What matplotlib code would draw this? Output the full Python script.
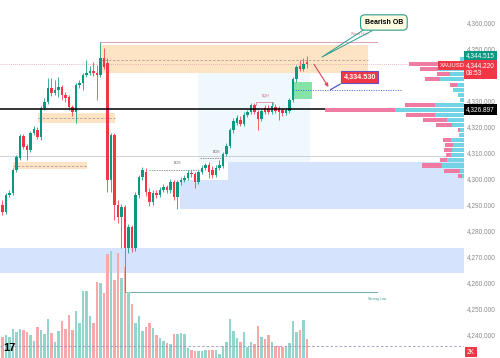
import numpy as np
import matplotlib.pyplot as plt
import matplotlib.transforms as mtransforms

plt.rcParams['font.family'] = ['Liberation Sans', 'DejaVu Sans']

# XAUUSD candles (price)
opens = [4290.0, 4287.3, 4293.8, 4294.6, 4303.5, 4308.1, 4316.5, 4312.7, 4311.2, 4317.7,
         4318.8, 4316.2, 4327.3, 4329.6, 4335.0, 4333.1, 4334.2, 4335.4, 4332.3, 4331.5,
         4327.7, 4325.8, 4336.2, 4336.9, 4340.0, 4340.8, 4341.5, 4340.8, 4340.0, 4346.5,
         4344.6, 4299.6, 4316.9, 4290.0, 4285.4, 4289.2, 4273.5, 4281.5, 4273.5, 4293.8,
         4300.8, 4302.7, 4295.0, 4291.2, 4294.6, 4293.8, 4295.8, 4296.9, 4295.8, 4298.8,
         4293.1, 4298.8, 4299.6, 4300.4, 4302.3, 4301.9, 4298.8, 4302.7, 4304.2, 4305.4,
         4303.5, 4301.5, 4304.2, 4305.0, 4309.6, 4312.7, 4318.8, 4321.5, 4322.7, 4321.2,
         4324.6, 4325.8, 4328.5, 4325.8, 4323.1, 4327.3, 4326.9, 4325.8, 4327.7, 4327.3,
         4326.5, 4325.4, 4326.2, 4330.4, 4338.5, 4343.5, 4342.3, 4345.0]
highs = [4291.9, 4294.6, 4295.8, 4304.2, 4309.2, 4317.3, 4317.3, 4313.5, 4318.5, 4320.4,
         4320.0, 4328.1, 4331.2, 4338.8, 4338.8, 4338.1, 4339.2, 4336.2, 4333.5, 4332.3,
         4328.5, 4336.9, 4338.1, 4340.8, 4345.8, 4343.5, 4345.0, 4343.8, 4352.7, 4350.4,
         4346.5, 4317.7, 4317.7, 4291.9, 4290.4, 4290.0, 4282.7, 4282.3, 4295.0, 4301.5,
         4304.6, 4304.2, 4296.5, 4295.8, 4295.8, 4296.9, 4298.1, 4297.7, 4300.0, 4299.6,
         4299.6, 4300.8, 4301.5, 4303.5, 4303.5, 4302.7, 4303.5, 4305.4, 4306.2, 4306.5,
         4305.0, 4305.4, 4307.3, 4310.4, 4313.8, 4319.6, 4323.5, 4324.6, 4324.2, 4325.8,
         4326.5, 4329.2, 4329.2, 4326.5, 4326.9, 4328.5, 4328.5, 4329.6, 4328.8, 4328.1,
         4327.3, 4327.3, 4331.2, 4339.2, 4343.8, 4345.8, 4346.5, 4347.3]
lows = [4286.2, 4286.5, 4293.1, 4293.8, 4302.7, 4307.3, 4311.5, 4307.3, 4310.4, 4316.9,
        4315.4, 4315.0, 4326.5, 4328.8, 4331.9, 4332.3, 4331.5, 4330.4, 4329.6, 4326.5,
        4324.2, 4321.5, 4335.0, 4334.2, 4339.2, 4340.0, 4339.6, 4330.4, 4339.2, 4342.3,
        4295.0, 4295.0, 4284.2, 4283.1, 4273.5, 4256.5, 4271.5, 4271.9, 4272.3, 4292.7,
        4299.6, 4293.5, 4289.6, 4290.0, 4292.7, 4293.1, 4295.0, 4294.6, 4294.6, 4291.9,
        4288.5, 4297.7, 4298.8, 4299.6, 4300.8, 4296.5, 4298.1, 4301.9, 4303.5, 4300.4,
        4300.4, 4300.8, 4303.5, 4304.2, 4308.8, 4311.9, 4317.7, 4320.8, 4320.4, 4320.4,
        4323.8, 4325.0, 4325.0, 4318.8, 4322.3, 4325.0, 4325.0, 4325.0, 4325.4, 4322.7,
        4324.2, 4324.6, 4325.4, 4329.6, 4337.3, 4341.5, 4341.5, 4342.7]
closes = [4287.3, 4293.8, 4294.6, 4303.5, 4308.5, 4316.5, 4312.3, 4311.2, 4317.7, 4319.2,
          4316.2, 4327.3, 4329.6, 4335.0, 4333.1, 4334.2, 4335.4, 4332.3, 4331.2, 4327.7,
          4325.8, 4336.2, 4336.9, 4340.0, 4340.8, 4341.5, 4340.8, 4340.0, 4346.5, 4343.1,
          4299.6, 4316.9, 4290.0, 4285.4, 4289.2, 4273.5, 4281.5, 4273.5, 4293.8, 4300.8,
          4303.5, 4295.0, 4291.2, 4294.6, 4293.8, 4295.8, 4296.9, 4295.8, 4298.8, 4293.1,
          4298.8, 4299.6, 4300.4, 4302.3, 4301.9, 4298.8, 4302.7, 4304.2, 4305.4, 4302.7,
          4301.5, 4304.2, 4305.4, 4309.6, 4312.7, 4318.8, 4322.3, 4323.5, 4321.2, 4324.6,
          4325.8, 4328.5, 4325.8, 4323.1, 4326.2, 4325.8, 4325.8, 4328.1, 4326.2, 4325.8,
          4325.4, 4326.5, 4330.4, 4338.5, 4343.1, 4342.3, 4344.2, 4344.22]
volumes = [2100, 2300, 2100, 2900, 2600, 2900, 2800, 2600, 2300, 1700,
           3100, 2800, 2400, 3900, 2500, 1600, 2700, 3700, 2900, 4300,
           2800, 4700, 3500, 6700, 6700, 4200, 3500, 7600, 7500, 6500,
           10400, 10700, 7800, 10500, 8000, 9100, 6600, 5400, 3500, 4200,
           2700, 3100, 3500, 3000, 2300, 2000, 1700, 1500, 1400, 2400,
           2400, 2500, 2400, 1000, 800, 700, 700, 700, 800, 800,
           800, 800, 400, 1200, 1600, 3900, 2700, 2000, 1600, 2600,
           1100, 1600, 1400, 3200, 2100, 1900, 2300, 1600, 1200, 1200,
           1100, 1200, 1500, 3700, 2600, 2800, 3800, 1900]

# volume profile rows (price level, sell, buy)
vp_price = [4346.2, 4344.2, 4342.3, 4340.4, 4338.5, 4336.2, 4334.2, 4332.3, 4330.4, 4328.5,
            4326.5, 4324.6, 4322.7, 4320.8, 4318.8, 4316.9, 4315.0, 4313.1, 4311.2, 4309.2,
            4307.3, 4305.2, 4303.2, 4301.3]
vp_sell = [0, 300, 180, 130, 150, 70, 0, 0, 0, 300,
           700, 290, 240, 160, 20, 0, 80, 80, 80, 50,
           70, 200, 160, 40]
vp_buy = [40, 250, 260, 140, 240, 70, 110, 60, 40, 290,
          690, 290, 170, 120, 40, 50, 130, 110, 120, 130,
          170, 220, 40, 20]

last_price = 4344.22
bid_price = 4344.515
level_price = 4326.897
target_price = 4334.530
y_ticks = [4360, 4350, 4330, 4320, 4310, 4300, 4290, 4280, 4270, 4260, 4250, 4240]

ymin, ymax = 4231.15, 4368.85
green, red = '#089981', '#f23645'

fig = plt.figure(figsize=(5, 3.58), dpi=100)
ax = fig.add_axes([0, 0, 464 / 500, 1])
ax.set_xlim(-0.71, 131.9)
ax.set_ylim(ymin, ymax)
for s in ax.spines.values():
    s.set_visible(False)
ax.set_xticks([])
ax.yaxis.tick_right()
ax.set_yticks(y_ticks)
ax.set_yticklabels([f'{v:,.3f}' for v in y_ticks])
ax.tick_params(axis='y', length=0, pad=2.2, labelsize=4.7, labelcolor='#8c8c8c')

n = len(closes)
x = np.arange(n)
right = 131.9

# zonas
ax.axhspan(4263.9, 4273.5, color='#d5e4fc', zorder=0, lw=0)
ax.fill_between([50.7, right], 4288.5, 4299.6, color='#d5e4fc', zorder=0, lw=0)
ax.fill_between([64.4, right], 4299.6, 4306.5, color='#d5e4fc', zorder=0, lw=0)
ax.fill_between([55.9, 87.9], 4306.5, 4340.8, color='#eef8fd', zorder=0, lw=0)
ax.fill_between([28.0, 104.4], 4340.8, 4351.5, color='#fce4c4', zorder=0, lw=0)
ax.fill_between([10.1, 32.1], 4321.5, 4325.4, color='#fce4c4', zorder=0, lw=0)
ax.fill_between([3.0, 24.1], 4303.8, 4306.5, color='#fce4c4', zorder=0, lw=0)
ax.plot([28.0, 104.4], [4345.8, 4345.8], ls=(0, (3, 2)), color='#b09a9a', lw=0.6, zorder=1)
ax.plot([10.1, 32.1], [4323.5, 4323.5], ls=(0, (3, 2)), color='#b09a9a', lw=0.6, zorder=1)
ax.plot([3.0, 24.1], [4305.0, 4305.0], ls=(0, (3, 2)), color='#b09a9a', lw=0.6, zorder=1)
ax.fill_between([83.0, 88.4], 4330.8, 4337.3, color='#86e3a8', zorder=1, lw=0)

ax.axhline(4308.8, color='#cfd0d8', lw=0.7, zorder=1)
ax.axhline(last_price, color='#e0a2ac', lw=0.6, ls=(0, (1, 1.5)), zorder=1)
ax.axhline(level_price, color='black', lw=1.1, zorder=4)

ax.plot([28.0, 107.0], [4352.7, 4352.7], color='#d9a3b3', lw=0.7, zorder=1)
ax.text(102.1, 4355.8, 'Weak High', fontsize=2.6, color='#d07a94', ha='center', va='center')
ax.plot([35.0, 107.0], [4256.5, 4256.5], color='#78aaa9', lw=0.7, zorder=1)
ax.text(107.0, 4254.0, 'Strong Low', fontsize=2.6, color='#3e9c96', ha='center', va='center')

ax.plot([41.9, 57.0], [4303.5, 4303.5], ls=(0, (2, 1.5)), color='#707070', lw=0.5, zorder=2)
ax.text(49.9, 4306.2, 'BOS', fontsize=2.6, color='#666666', ha='center', va='center')
ax.plot([56.4, 63.3], [4308.1, 4308.1], ls=(0, (2, 1.5)), color='#707070', lw=0.5, zorder=2)
ax.text(61.3, 4310.4, 'BOS', fontsize=2.6, color='#666666', ha='center', va='center')
ax.plot([72.4, 72.4, 77.3, 77.3], [4328.6, 4329.6, 4329.6, 4328.6], color='#e07a8a', lw=0.5, zorder=2)
ax.text(75.3, 4331.9, 'EQH', fontsize=2.6, color='#d0607a', ha='center', va='center')

ax.plot([83.0, 114.1], [4334.2, 4334.2], ls=(0, (1, 1.5)), color='#3f5fd8', lw=0.7, zorder=2)

# volume (painel de baixo)
vscale = (ymax - ymin) / 35800
vcol = ['#92d5cc' if c >= o else '#f6a9a8' for o, c in zip(opens, closes)]
ax.bar(x, np.array(volumes) * vscale, bottom=ymin, width=0.78, color=vcol, zorder=2)
ax.axhline(ymin + 1200 * vscale, color='#9c94b8', lw=0.6, ls=(0, (3, 2.5)), zorder=2)

# candles
ccol = [green if c >= o else red for o, c in zip(opens, closes)]
ax.vlines(x, lows, highs, colors=ccol, lw=0.55, zorder=3)
body_lo = np.minimum(opens, closes)
body_h = np.maximum(np.abs(np.array(closes) - np.array(opens)), 0.35)
ax.bar(x, body_h, bottom=body_lo, width=0.68, color=ccol, zorder=3)

# seta e rótulos
ax.annotate('', xy=(93.6, 4334.5), xytext=(88.6, 4345.0),
            arrowprops=dict(arrowstyle='-|>', color='#e0485e', lw=0.8, mutation_scale=5), zorder=5)
ax.plot([96.5, 93.8], [4336.5, 4334.4], color='#5b4fd0', lw=0.9, zorder=5)
ax.text(102.1, 4339.2, f'{target_price:,.3f}', fontsize=5.2, color='white', weight='bold',
        ha='center', va='center', zorder=6,
        bbox=dict(boxstyle='square,pad=0.35', fc=red, ec='#6a4fc8', lw=0.8))

ax.plot([103.6, 91.3, 105.6], [4357.7, 4346.9, 4357.0], color='#2a9d8f', lw=0.7, zorder=5)
ax.text(109.0, 4360.2, 'Bearish OB', fontsize=5, color='black', weight='bold',
        ha='center', va='center', zorder=6,
        bbox=dict(boxstyle='round,pad=0.6,rounding_size=0.6', fc='#fffbe1', ec='#2a9d8f', lw=0.8))

# perfil de volume
ax_vp = fig.add_axes([300 / 500, 0, 164 / 500, 1])
ax_vp.set_ylim(ymin, ymax)
ax_vp.set_xlim(1640, 0)
ax_vp.axis('off')
ax_vp.patch.set_alpha(0)
ax_vp.barh(vp_price, vp_buy, left=0, height=1.6, color='#72d3e4', lw=0)
ax_vp.barh(vp_price, vp_sell, left=vp_buy, height=1.6, color='#ef7ba3', lw=0)

# etiquetas de preço
tr = mtransforms.blended_transform_factory(fig.transFigure, ax.transData)
tag = dict(fontsize=4.7, color='white', va='center', ha='left', transform=tr, zorder=10)
fig.text(0.932, 4347.3, f'{bid_price:,.3f}', **tag,
         bbox=dict(boxstyle='square,pad=0.3', fc=green, ec='none'))
fig.text(0.932, 4342.1, f'{last_price:,.3f}\n08:53', linespacing=1.15, **tag,
         bbox=dict(boxstyle='square,pad=0.3', fc=red, ec='none'))
fig.text(0.932, level_price, f'{level_price:,.3f}', **tag,
         bbox=dict(boxstyle='square,pad=0.3', fc='black', ec='none'))
fig.text(0.879, 4343.6, 'XAUUSD', fontsize=4.3, color='white', va='center', ha='left',
         transform=tr, zorder=10, bbox=dict(boxstyle='square,pad=0.3', fc=red, ec='none'))
fig.text(0.934, 6 / 358, '2K', fontsize=4.7, color='white', va='center', ha='left',
         zorder=10, bbox=dict(boxstyle='square,pad=0.3', fc=red, ec='none'))
fig.text(0.006, 10 / 358, '17', fontsize=8, color='black', weight='bold', va='center', ha='left')

plt.savefig('out.png', dpi=100)
